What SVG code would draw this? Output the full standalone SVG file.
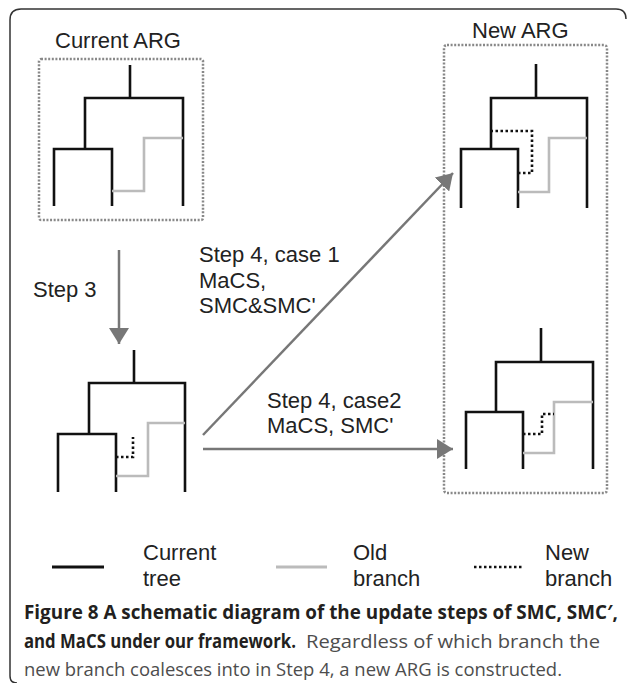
<svg xmlns="http://www.w3.org/2000/svg" width="627" height="683" viewBox="0 0 627 683">
<defs>
<style>
.bg{fill:#fff}
.frame{fill:none;stroke:#333;stroke-width:1.5}
.box{fill:none;stroke:#888;stroke-width:2.5;stroke-dasharray:2 1.6}
.tree{fill:none;stroke:#111;stroke-width:2.6}
.old{fill:none;stroke:#bbb;stroke-width:2.6}
.new{fill:none;stroke:#111;stroke-width:2.6;stroke-dasharray:2.5 2.5}
.arrow{fill:none;stroke:#777;stroke-width:2.5}
.lbl{font-family:"Liberation Sans",Arial,sans-serif;font-size:22px;fill:#222}
.cap{font-family:"Open Sans","Noto Sans",sans-serif;font-size:19px}
.capb{font-weight:bold;fill:#231f20}
.capr{fill:#4d4d4d}
</style>
<marker id="ah" markerUnits="userSpaceOnUse" viewBox="0 0 16 20" markerWidth="16" markerHeight="20" refX="16" refY="10" orient="auto">
<path d="M0,0 L16,10 L0,20 Z" fill="#777"/>
</marker>
</defs>
<rect class="bg" x="0" y="0" width="627" height="683"/>
<path class="frame" d="M17,683 Q10,683 10,676 V20 Q10,9 21,9 H616 Q626,9 626,19"/>

<g id="current-arg">
<text class="lbl" x="55" y="48">Current ARG</text>
<rect class="box" x="39" y="59" width="164" height="161" rx="2"/>
<path class="tree" d="M130,65 V98 M85,149 V98 H183 V206 M54,206 V149 H112 V206"/>
<path class="old" d="M112,191 H144 V138 H183"/>
</g>

<g id="intermediate-tree">
<path class="tree" d="M134,350 V383 M89,434 V383 H185 V492 M58,492 V434 H116 V492"/>
<path class="old" d="M116,476 H148 V423 H185"/>
<path class="new" d="M116,457 H133 V437"/>
</g>

<g id="new-arg">
<text class="lbl" x="472" y="38">New ARG</text>
<rect class="box" x="444" y="45" width="163" height="448" rx="3"/>
<g id="new-tree-case1">
<path class="tree" d="M536,64 V98 M491,149 V98 H587 V208 M461,208 V149 H518 V208"/>
<path class="old" d="M518,192 H549 V138 H587"/>
<path class="new" d="M518,173 H532 V131 H491"/>
</g>
<g id="new-tree-case2">
<path class="tree" d="M541,328 V362 M496,412 V362 H593 V469 M466,469 V412 H523 V469"/>
<path class="old" d="M523,453 H554 V402 H593"/>
<path class="new" d="M523,434 H542 V414 H554"/>
</g>
</g>

<g id="connectors">
<line class="arrow" x1="119" y1="250" x2="119" y2="344" marker-end="url(#ah)"/>
<line class="arrow" x1="203" y1="435" x2="453" y2="173" marker-end="url(#ah)"/>
<line class="arrow" x1="203" y1="449" x2="453" y2="449" marker-end="url(#ah)"/>
</g>

<g id="labels">
<text class="lbl" x="33" y="297">Step 3</text>
<text class="lbl" x="199" y="262">Step 4, case 1</text>
<text class="lbl" x="199" y="288">MaCS,</text>
<text class="lbl" x="199" y="313">SMC&amp;SMC'</text>
<text class="lbl" x="267" y="408">Step 4, case2</text>
<text class="lbl" x="267" y="433">MaCS, SMC'</text>
</g>

<g id="legend">
<line class="tree" x1="52" y1="567" x2="104" y2="567" style="stroke-width:3"/>
<text class="lbl" x="143" y="560">Current</text>
<text class="lbl" x="143" y="586">tree</text>
<line class="old" x1="276" y1="567" x2="327" y2="567" style="stroke-width:3"/>
<text class="lbl" x="353" y="560">Old</text>
<text class="lbl" x="353" y="586">branch</text>
<line class="new" x1="474" y1="567" x2="524" y2="567" style="stroke-width:2.5;stroke-dasharray:2.5 2.5"/>
<text class="lbl" x="545" y="560">New</text>
<text class="lbl" x="545" y="586">branch</text>
</g>

<g id="caption">
<text class="cap capb" x="24" y="619" textLength="594" lengthAdjust="spacingAndGlyphs">Figure 8 A schematic diagram of the update steps of SMC, SMC′,</text>
<text class="cap capb" x="24" y="648" textLength="272" lengthAdjust="spacingAndGlyphs">and MaCS under our framework.</text>
<text class="cap capr" x="306" y="648" textLength="294" lengthAdjust="spacingAndGlyphs">Regardless of which branch the</text>
<text class="cap capr" x="24" y="676" textLength="538" lengthAdjust="spacingAndGlyphs">new branch coalesces into in Step 4, a new ARG is constructed.</text>
</g>
</svg>
